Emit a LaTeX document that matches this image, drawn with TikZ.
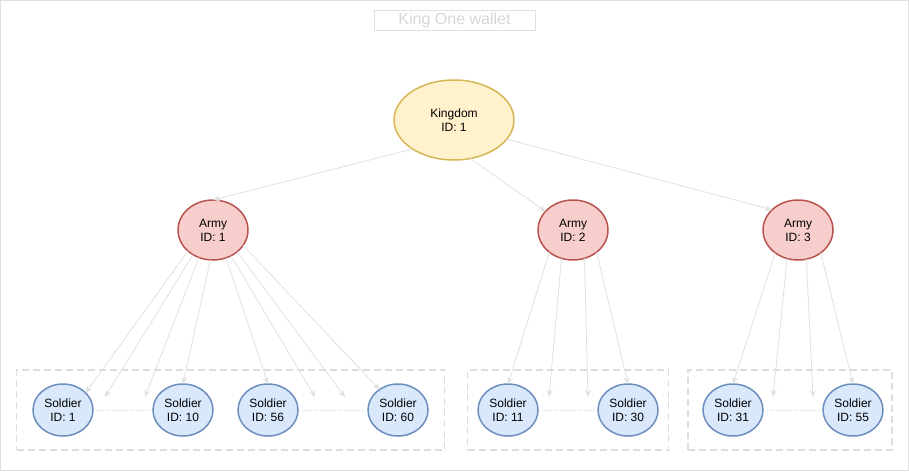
\documentclass[tikz,border=0pt]{standalone}
\usepackage{fontspec}
\setmainfont{Liberation Sans}
\usetikzlibrary{positioning, arrows.meta, shapes.geometric, fit, backgrounds}

\definecolor{kingfill}{HTML}{FFF2CC}
\definecolor{kingline}{HTML}{D6B656}
\definecolor{armyfill}{HTML}{F8CECC}
\definecolor{armyline}{HTML}{B85450}
\definecolor{soldierfill}{HTML}{DAE8FC}
\definecolor{soldierline}{HTML}{6C8EBF}
\definecolor{edgegray}{HTML}{E0E0E0}
\definecolor{boxgray}{HTML}{DDDDDD}
\definecolor{dotgray}{HTML}{CCCCCC}
\definecolor{titlegray}{HTML}{D6D6D6}

\begin{document}
\begin{tikzpicture}[
        x=1pt, y=-1pt,
        every node/.style={font=\fontsize{12}{14}\selectfont},
        kingdom/.style={ellipse, draw=kingline, fill=kingfill, line width=1.5pt, minimum width=120pt, minimum height=80pt, inner sep=0pt, outer sep=0pt, align=center},
        army/.style={ellipse, draw=armyline, fill=armyfill, line width=1.5pt, minimum width=70pt, minimum height=60pt, inner sep=0pt, outer sep=0pt, align=center},
        soldier/.style={ellipse, draw=soldierline, fill=soldierfill, line width=1.5pt, minimum width=60pt, minimum height=52pt, inner sep=0pt, outer sep=0pt, align=center},
        group/.style={draw=boxgray, dash pattern=on 7pt off 4pt, line width=1.5pt, inner ysep=14pt},
        arrow/.style={-{Stealth[length=7pt, width=6pt]}, draw=edgegray, line width=0.8pt},
        link/.style={draw=dotgray, dotted, line width=1pt, shorten <=4pt, shorten >=3pt}
    ]

    \useasboundingbox (0,0) rectangle (909,471);
    \draw[draw=edgegray, line width=1pt] (0.5,0.5) rectangle (908,470);

    \node[draw=edgegray, text=titlegray, minimum width=161pt, minimum height=20pt, inner sep=0pt, font=\fontsize{16}{18}\selectfont] (title) at (454.5,20) {King One wallet};

    \node[kingdom] (kingdom) at (454,120) {Kingdom\\ID: 1};

    \node[army] (a1) at (213,230) {Army\\ID: 1};
    \node[army, right=290pt of a1] (a2) {Army\\ID: 2};
    \node[army, right=155pt of a2] (a3) {Army\\ID: 3};

    \node[soldier] (s1) at (63,410) {Soldier\\ID: 1};
    \node[soldier, right=60pt of s1] (s10) {Soldier\\ID: 10};
    \node[soldier, right=25pt of s10] (s56) {Soldier\\ID: 56};
    \node[soldier, right=70pt of s56] (s60) {Soldier\\ID: 60};
    \node[soldier] (s11) at (508,410) {Soldier\\ID: 11};
    \node[soldier, right=60pt of s11] (s30) {Soldier\\ID: 30};
    \node[soldier] (s31) at (733,410) {Soldier\\ID: 31};
    \node[soldier, right=60pt of s31] (s55) {Soldier\\ID: 55};

    \begin{scope}[on background layer]
        \node[group, fit=(s1)(s60), inner xsep=16.5pt] (g1) {};
        \node[group, fit=(s11)(s30), inner xsep=10.5pt] (g2) {};
        \node[group, fit=(s31)(s55), inner xsep=12pt, xshift=-3pt] (g3) {};
    \end{scope}

    \coordinate (e1) at (105,397);
    \coordinate (e2) at (145,397);
    \coordinate (e3) at (315,397);
    \coordinate (e4) at (345,397);
    \coordinate (e5) at (549,397);
    \coordinate (e6) at (588,397);
    \coordinate (e7) at (773,397);
    \coordinate (e8) at (813,397);

    \draw[arrow] (kingdom.215) -- (a1.north);
    \draw[arrow] (kingdom.293) -- (a2.146);
    \draw[arrow] (kingdom.340) -- (a3.142);

    \draw[arrow] (a1.220) -- (s1.37);
    \draw[arrow] (a1.231) -- (e1);
    \draw[arrow] (a1.243) -- (e2);
    \draw[arrow] (a1.265) -- (s10.north);
    \draw[arrow] (a1.295) -- (s56.north);
    \draw[arrow] (a1.305) -- (e3);
    \draw[arrow] (a1.318) -- (e4);
    \draw[arrow] (a1.333) -- (s60.132);

    \draw[arrow] (a2.223) -- (s11.north);
    \draw[arrow] (a2.248) -- (e5);
    \draw[arrow] (a2.292) -- (e6);
    \draw[arrow] (a2.317) -- (s30.north);

    \draw[arrow] (a3.225) -- (s31.north);
    \draw[arrow] (a3.249) -- (e7);
    \draw[arrow] (a3.286) -- (e8);
    \draw[arrow] (a3.315) -- (s55.north);

    \draw[link] (s1.east) -- (s10.west);
    \draw[link] (s56.east) -- (s60.west);
    \draw[link] (s11.east) -- (s30.west);
    \draw[link] (s31.east) -- (s55.west);

\end{tikzpicture}
\end{document}
